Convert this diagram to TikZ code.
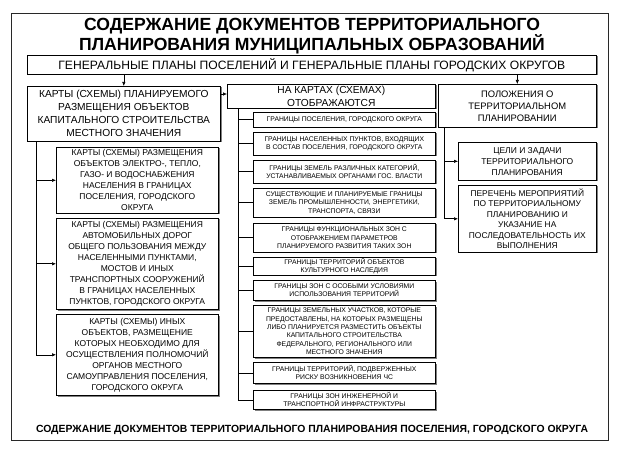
\documentclass[tikz,border=0pt]{standalone}
\usepackage{fontspec}
\setmainfont{Liberation Sans}
\usepackage{xcolor}
\usepackage{tikz}
\usetikzlibrary{arrows.meta,shadows}
\definecolor{shadowgray}{RGB}{128,128,128}
\definecolor{framegray}{RGB}{40,40,40}

\tikzset{
  box/.style={draw=black, fill=white, line width=0.6pt, align=center, inner sep=0pt, anchor=north west,
    drop shadow={shadow xshift=1.2pt, shadow yshift=-1.2pt, fill=shadowgray, opacity=1}},
  bigbox/.style={box, font=\fontsize{10.2}{13}\selectfont},
  smallbox/.style={box, font=\fontsize{8.5}{11}\selectfont},
  tinybox/.style={box, font=\fontsize{6.8}{8.3}\selectfont},
  arr/.style={-{Latex[length=4pt,width=3.5pt]}, line width=0.6pt},
  link/.style={line width=0.6pt}
}

\begin{document}
\begin{tikzpicture}[x=1pt,y=-1pt]
\useasboundingbox (0,0) rectangle (624,457);
% Draw the outer frame
\draw[draw=framegray, fill=white, line width=0.6pt,
  drop shadow={shadow xshift=1.2pt, shadow yshift=-1.2pt, fill=shadowgray, opacity=1}] (11,13) rectangle (608,440);
% Title
\node[font=\bfseries\fontsize{17.6}{19.5}\selectfont, align=center] (title) at (312,36) {СОДЕРЖАНИЕ ДОКУМЕНТОВ ТЕРРИТОРИАЛЬНОГО\\ПЛАНИРОВАНИЯ МУНИЦИПАЛЬНЫХ ОБРАЗОВАНИЙ};
% General plans
\node[box, font=\fontsize{12.1}{14}\selectfont, minimum width=569pt, minimum height=19pt] (genplans) at (27,55) {ГЕНЕРАЛЬНЫЕ ПЛАНЫ ПОСЕЛЕНИЙ И ГЕНЕРАЛЬНЫЕ ПЛАНЫ ГОРОДСКИХ ОКРУГОВ};

% Left column
\node[bigbox, minimum width=193pt, minimum height=55pt] (mapsplan) at (27,86) {КАРТЫ (СХЕМЫ) ПЛАНИРУЕМОГО\\РАЗМЕЩЕНИЯ ОБЪЕКТОВ\\КАПИТАЛЬНОГО СТРОИТЕЛЬСТВА\\МЕСТНОГО ЗНАЧЕНИЯ};
\node[smallbox, minimum width=162pt, minimum height=66pt] (mapsutil) at (56,147) {КАРТЫ (СХЕМЫ) РАЗМЕЩЕНИЯ\\ОБЪЕКТОВ ЭЛЕКТРО-, ТЕПЛО,\\ГАЗО- И ВОДОСНАБЖЕНИЯ\\НАСЕЛЕНИЯ В ГРАНИЦАХ\\ПОСЕЛЕНИЯ, ГОРОДСКОГО\\ОКРУГА};
\node[smallbox, minimum width=162pt, minimum height=91pt] (mapsroads) at (56,218) {КАРТЫ (СХЕМЫ) РАЗМЕЩЕНИЯ\\АВТОМОБИЛЬНЫХ ДОРОГ\\ОБЩЕГО ПОЛЬЗОВАНИЯ МЕЖДУ\\НАСЕЛЕННЫМИ ПУНКТАМИ,\\МОСТОВ И ИНЫХ\\ТРАНСПОРТНЫХ СООРУЖЕНИЙ\\В ГРАНИЦАХ НАСЕЛЕННЫХ\\ПУНКТОВ, ГОРОДСКОГО ОКРУГА};
\node[smallbox, minimum width=162pt, minimum height=81pt] (mapsother) at (56,314) {КАРТЫ (СХЕМЫ) ИНЫХ\\ОБЪЕКТОВ, РАЗМЕЩЕНИЕ\\КОТОРЫХ НЕОБХОДИМО ДЛЯ\\ОСУЩЕСТВЛЕНИЯ ПОЛНОМОЧИЙ\\ОРГАНОВ МЕСТНОГО\\САМОУПРАВЛЕНИЯ ПОСЕЛЕНИЯ,\\ГОРОДСКОГО ОКРУГА};

% Middle column
\node[bigbox, minimum width=208pt, minimum height=24pt] (onmaps) at (227,84) {НА КАРТАХ (СХЕМАХ)\\ОТОБРАЖАЮТСЯ};
\node[tinybox, minimum width=182pt, minimum height=15pt] (settlebound) at (253,112) {ГРАНИЦЫ ПОСЕЛЕНИЯ, ГОРОДСКОГО ОКРУГА};
\node[tinybox, minimum width=182pt, minimum height=23pt] (localbound) at (253,132) {ГРАНИЦЫ НАСЕЛЕННЫХ ПУНКТОВ, ВХОДЯЩИХ\\В СОСТАВ ПОСЕЛЕНИЯ, ГОРОДСКОГО ОКРУГА};
\node[tinybox, minimum width=182pt, minimum height=23pt] (landcat) at (253,160) {ГРАНИЦЫ ЗЕМЕЛЬ РАЗЛИЧНЫХ КАТЕГОРИЙ,\\УСТАНАВЛИВАЕМЫХ ОРГАНАМИ ГОС. ВЛАСТИ};
\node[tinybox, minimum width=182pt, minimum height=29pt] (industry) at (253,188) {СУЩЕСТВУЮЩИЕ И ПЛАНИРУЕМЫЕ ГРАНИЦЫ\\ЗЕМЕЛЬ ПРОМЫШЛЕННОСТИ, ЭНЕРГЕТИКИ,\\ТРАНСПОРТА, СВЯЗИ};
\node[tinybox, minimum width=182pt, minimum height=29pt] (funczones) at (253,223) {ГРАНИЦЫ ФУНКЦИОНАЛЬНЫХ ЗОН С\\ОТОБРАЖЕНИЕМ ПАРАМЕТРОВ\\ПЛАНИРУЕМОГО РАЗВИТИЯ ТАКИХ ЗОН};
\node[tinybox, minimum width=182pt, minimum height=18pt] (heritage) at (253,257) {ГРАНИЦЫ ТЕРРИТОРИЙ ОБЪЕКТОВ\\КУЛЬТУРНОГО НАСЛЕДИЯ};
\node[tinybox, minimum width=182pt, minimum height=20pt] (specialzones) at (253,280) {ГРАНИЦЫ ЗОН С ОСОБЫМИ УСЛОВИЯМИ\\ИСПОЛЬЗОВАНИЯ ТЕРРИТОРИЙ};
\node[tinybox, minimum width=182pt, minimum height=52pt] (landplots) at (253,305) {ГРАНИЦЫ ЗЕМЕЛЬНЫХ УЧАСТКОВ, КОТОРЫЕ\\ПРЕДОСТАВЛЕНЫ, НА КОТОРЫХ РАЗМЕЩЕНЫ\\ЛИБО ПЛАНИРУЕТСЯ РАЗМЕСТИТЬ ОБЪЕКТЫ\\КАПИТАЛЬНОГО СТРОИТЕЛЬСТВА\\ФЕДЕРАЛЬНОГО, РЕГИОНАЛЬНОГО ИЛИ\\МЕСТНОГО ЗНАЧЕНИЯ};
\node[tinybox, minimum width=182pt, minimum height=21pt] (emergency) at (253,362) {ГРАНИЦЫ ТЕРРИТОРИЙ, ПОДВЕРЖЕННЫХ\\РИСКУ ВОЗНИКНОВЕНИЯ ЧС};
\node[tinybox, minimum width=182pt, minimum height=19pt] (infra) at (253,390) {ГРАНИЦЫ ЗОН ИНЖЕНЕРНОЙ И\\ТРАНСПОРТНОЙ ИНФРАСТРУКТУРЫ};

% Right column
\node[box, font=\fontsize{9.4}{12}\selectfont, minimum width=158pt, minimum height=43pt] (provisions) at (438,84) {ПОЛОЖЕНИЯ О\\ТЕРРИТОРИАЛЬНОМ\\ПЛАНИРОВАНИИ};
\node[smallbox, minimum width=138pt, minimum height=38pt] (goals) at (458,142) {ЦЕЛИ И ЗАДАЧИ\\ТЕРРИТОРИАЛЬНОГО\\ПЛАНИРОВАНИЯ};
\node[smallbox, font=\fontsize{8.4}{10.5}\selectfont, minimum width=138pt, minimum height=67pt] (measures) at (458,185) {ПЕРЕЧЕНЬ МЕРОПРИЯТИЙ\\ПО ТЕРРИТОРИАЛЬНОМУ\\ПЛАНИРОВАНИЮ И\\УКАЗАНИЕ НА\\ПОСЛЕДОВАТЕЛЬНОСТЬ ИХ\\ВЫПОЛНЕНИЯ};

% Bottom caption
\node[font=\bfseries\fontsize{10.4}{12}\selectfont] (caption) at (312,430) {СОДЕРЖАНИЕ ДОКУМЕНТОВ ТЕРРИТОРИАЛЬНОГО ПЛАНИРОВАНИЯ ПОСЕЛЕНИЯ, ГОРОДСКОГО ОКРУГА};

% Arrows from the general plans
\draw[arr] (genplans.south -| mapsplan.north) -- (mapsplan.north);
\draw[arr] (genplans.south -| provisions.north) -- (provisions.north);
\draw[arr] ([yshift=-8pt]mapsplan.north east) -- ([yshift=-8pt]mapsplan.north east -| onmaps.west);
% Left tree
\draw[arr] ([xshift=9pt]mapsplan.south west) |- (mapsutil.west);
\draw[arr] ([xshift=9pt]mapsplan.south west) |- (mapsroads.west);
\draw[arr] ([xshift=9pt]mapsplan.south west) |- (mapsother.west);
% Middle tree
\draw[link] ([xshift=11pt]onmaps.south west) |- (settlebound.west);
\draw[link] ([xshift=11pt]onmaps.south west) |- (localbound.west);
\draw[link] ([xshift=11pt]onmaps.south west) |- (landcat.west);
\draw[link] ([xshift=11pt]onmaps.south west) |- (industry.west);
\draw[link] ([xshift=11pt]onmaps.south west) |- (funczones.west);
\draw[link] ([xshift=11pt]onmaps.south west) |- (heritage.west);
\draw[link] ([xshift=11pt]onmaps.south west) |- (specialzones.west);
\draw[link] ([xshift=11pt]onmaps.south west) |- (landplots.west);
\draw[link] ([xshift=11pt]onmaps.south west) |- (emergency.west);
\draw[link] ([xshift=11pt]onmaps.south west) |- (infra.west);
% Right tree
\draw[arr] ([xshift=6pt]provisions.south west) |- (goals.west);
\draw[arr] ([xshift=6pt]provisions.south west) |- (measures.west);
\end{tikzpicture}
\end{document}
